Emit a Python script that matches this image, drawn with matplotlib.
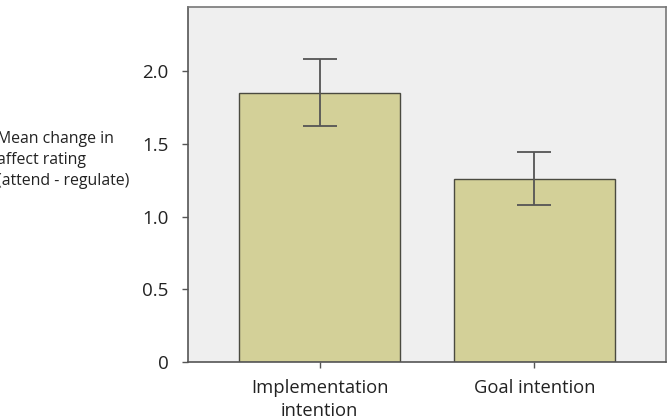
import matplotlib
matplotlib.use('Agg')
import matplotlib.pyplot as plt

plt.rcParams['font.family'] = ['Open Sans', 'DejaVu Sans']

groups = ['Implementation\nintention', 'Goal intention']
means = [1.85, 1.26]
err_low = [0.23, 0.18]
err_high = [0.235, 0.18]

fig = plt.figure(figsize=(6.72, 4.16), dpi=100)
ax = fig.add_axes([0.2798, 0.1298, 0.7112, 0.8534])
ax.set_facecolor('#efefef')

x = list(range(len(groups)))
ax.bar(x, means, width=0.75, color='#d3d098', edgecolor='#4a4a40', linewidth=1.0, zorder=2)
ax.errorbar(x, means, yerr=[err_low, err_high], fmt='none', ecolor='#555555',
            elinewidth=1.3, capsize=12, capthick=1.3, zorder=3)

ax.set_xlim(-0.612, 1.612)
ax.set_ylim(0, 2.44)
ax.set_yticks([0, 0.5, 1.0, 1.5, 2.0])
ax.set_yticklabels(['0', '0.5', '1.0', '1.5', '2.0'])
ax.set_xticks(x)
ax.set_xticklabels(groups, linespacing=1.35)
ax.tick_params(axis='y', length=4, width=1, color='#555555', labelsize=13.5, pad=10, labelcolor='#222222')
ax.tick_params(axis='x', length=4, width=1, color='#555555', labelsize=13.2, pad=8, labelcolor='#222222')

for s in ax.spines.values():
    s.set_color('#777777')
    s.set_linewidth(1.2)
ax.spines['left'].set_color('#555555')
ax.spines['bottom'].set_color('#555555')

fig.text(-0.005, 0.615, 'Mean change in\naffect rating\n(attend - regulate)', fontsize=11.4,
         ha='left', va='center', linespacing=1.4, color='#222222')

fig.savefig('out.png', dpi=100)
